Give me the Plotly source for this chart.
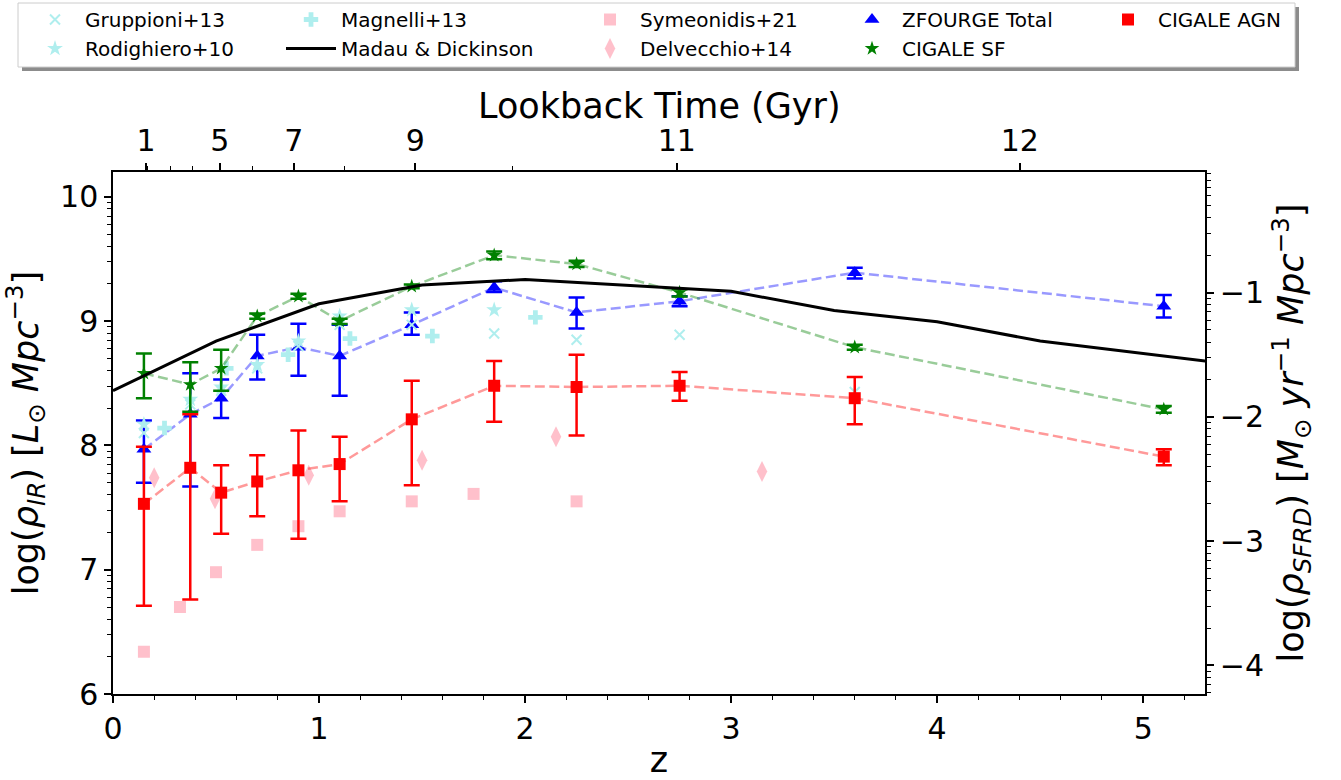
import math
import plotly.graph_objects as go

# ------------------------------------------------------------------ data
z_bins = [0.15, 0.375, 0.525, 0.7, 0.9, 1.1, 1.45, 1.85, 2.25, 2.75, 3.6, 5.1]

zf_total = [7.97, 8.25, 8.38, 8.72, 8.79, 8.72, 8.97, 9.27, 9.07, 9.16, 9.39, 9.12]
zf_total_hi = [0.23, 0.33, 0.15, 0.17, 0.19, 0.25, 0.10, 0.05, 0.12, 0.04, 0.04, 0.09]
zf_total_lo = [0.27, 0.58, 0.16, 0.19, 0.23, 0.32, 0.08, 0.035, 0.13, 0.04, 0.046, 0.09]

cigale_sf = [8.58, 8.49, 8.62, 9.04, 9.20, 9.00, 9.28, 9.53, 9.46, 9.23, 8.79, 8.29]
cigale_sf_hi = [0.16, 0.18, 0.15, 0.022, 0.02, 0.02, 0.015, 0.03, 0.025, 0.027, 0.02, 0.027]
cigale_sf_lo = [0.20, 0.22, 0.18, 0.021, 0.02, 0.022, 0.015, 0.032, 0.025, 0.032, 0.02, 0.027]

cigale_agn = [7.53, 7.82, 7.62, 7.71, 7.80, 7.85, 8.21, 8.48, 8.47, 8.48, 8.38, 7.91]
cigale_agn_hi = [0.46, 0.43, 0.22, 0.21, 0.32, 0.22, 0.31, 0.20, 0.26, 0.11, 0.17, 0.06]
cigale_agn_lo = [0.82, 1.06, 0.33, 0.28, 0.55, 0.30, 0.53, 0.29, 0.39, 0.12, 0.21, 0.07]

gruppioni_z = [0.15, 0.375, 0.525, 0.7, 0.9, 1.1, 1.45, 1.85, 2.25, 2.75, 3.6]
gruppioni_y = [8.10, 8.33, 8.44, 8.62, 8.80, 8.97, 8.97, 8.90, 8.85, 8.89, 8.43]

rodighiero_z = [0.15, 0.375, 0.525, 0.7, 0.9, 1.1, 1.45, 1.85]
rodighiero_y = [8.17, 8.37, 8.47, 8.65, 8.84, 9.04, 9.09, 9.09]

magnelli_z = [0.25, 0.55, 0.85, 1.15, 1.55, 2.05]
magnelli_y = [8.14, 8.62, 8.73, 8.86, 8.88, 9.03]

symeonidis_z = [0.15, 0.325, 0.5, 0.7, 0.9, 1.1, 1.45, 1.75, 2.25]
symeonidis_y = [6.34, 6.70, 6.98, 7.20, 7.35, 7.47, 7.55, 7.61, 7.55]

delvecchio_z = [0.2, 0.495, 0.95, 1.5, 2.15, 3.15]
delvecchio_y = [7.74, 7.57, 7.76, 7.88, 8.07, 7.79]

# Madau & Dickinson SFRD (right axis units)
md_z = [0.0, 0.5, 1.0, 1.5, 2.0, 2.5, 3.0, 3.5, 4.0, 4.5, 5.0, 5.5]
md_sfrd = [-1.79, -1.39, -1.09, -0.94, -0.895, -0.94, -0.99, -1.145, -1.235, -1.39, -1.49, -1.59]

# top axis (lookback time) tick positions in z
lookback_tick_z = [0.160, 0.518, 0.878, 1.467, 2.736, 4.401]
lookback_tick_text = ["1", "5", "7", "9", "11", "12"]
lookback_minor_z = [0.169, 0.277, 0.385, 0.679, 1.125, 1.939]

left_ticks = [6, 7, 8, 9, 10]
right_ticks = [-4, -3, -2, -1]
right_ticktext = ["\u22124", "\u22123", "\u22122", "\u22121"]
x_ticks = [0, 1, 2, 3, 4, 5]

# ------------------------------------------------------------------ style
FONT = "DejaVu Sans"
W, H = 1341, 780
ML, MR, MT, MB = 113, 136, 172, 86
PW, PH = W - ML - MR, H - MT - MB

Y_RANGE = [6.0, 10.2]
Y2_OFFSET = 10.23
Y2_RANGE = [Y_RANGE[0] - Y2_OFFSET, Y_RANGE[1] - Y2_OFFSET]


def px_x(px):
    return (px - ML) / PW


def px_y(py):
    return (H - MB - py) / PH


CYAN = "paleturquoise"
PINK = "pink"
DASH = "10px,4.5px"

fig = go.Figure()


def dashed(x, y, color):
    fig.add_trace(go.Scatter(x=x, y=y, mode="lines",
                             line=dict(color=color, width=2.5, dash=DASH),
                             showlegend=False, hoverinfo="skip"))


def errpoints(x, y, hi, lo, color, symbol, size, name, legend):
    fig.add_trace(go.Scatter(
        x=x, y=y, mode="markers", name=name, legend=legend,
        marker=dict(color=color, symbol=symbol, size=size, line=dict(width=0)),
        error_y=dict(type="data", symmetric=False, array=hi, arrayminus=lo,
                     color=color, thickness=2.5, width=8)))


# ZFOURGE total
dashed(z_bins, zf_total, "rgba(0,0,255,0.4)")
errpoints(z_bins, zf_total, zf_total_hi, zf_total_lo, "blue", "triangle-up", 13,
          "ZFOURGE Total", "legend4")

# literature
fig.add_trace(go.Scatter(x=gruppioni_z, y=gruppioni_y, mode="markers", name="Gruppioni+13",
                         legend="legend",
                         marker=dict(symbol="x-thin", size=10, color=CYAN,
                                     line=dict(color=CYAN, width=2))))
fig.add_trace(go.Scatter(x=rodighiero_z, y=rodighiero_y, mode="markers", name="Rodighiero+10",
                         legend="legend",
                         marker=dict(symbol="star", size=12, color=CYAN, line=dict(width=0))))
fig.add_trace(go.Scatter(x=magnelli_z, y=magnelli_y, mode="markers", name="Magnelli+13",
                         legend="legend2",
                         marker=dict(symbol="cross", size=12, color=CYAN, line=dict(width=0))))
fig.add_trace(go.Scatter(x=md_z, y=md_sfrd, mode="lines", name="Madau & Dickinson",
                         legend="legend2", xaxis="x2", yaxis="y2",
                         line=dict(color="black", width=3)))
fig.add_trace(go.Scatter(x=symeonidis_z, y=symeonidis_y, mode="markers", name="Symeonidis+21",
                         legend="legend3",
                         marker=dict(symbol="square", size=12, color=PINK, line=dict(width=0))))
fig.add_trace(go.Scatter(x=delvecchio_z, y=delvecchio_y, mode="markers", name="Delvecchio+14",
                         legend="legend3",
                         marker=dict(symbol="diamond-tall", size=15, color=PINK, line=dict(width=0))))

# CIGALE SF
dashed(z_bins, cigale_sf, "rgba(0,128,0,0.4)")
errpoints(z_bins, cigale_sf, cigale_sf_hi, cigale_sf_lo, "green", "star", 11,
          "CIGALE SF", "legend4")

# CIGALE AGN
dashed(z_bins, cigale_agn, "rgba(255,0,0,0.4)")
errpoints(z_bins, cigale_agn, cigale_agn_hi, cigale_agn_lo, "red", "square", 12,
          "CIGALE AGN", "legend5")

# ------------------------------------------------------------------ axes
x_minor = [round(i * 0.2, 2) for i in range(27) if i % 5 != 0]
y_minor = [n + math.log10(k) for n in range(6, 11) for k in range(2, 10)
           if n + math.log10(k) <= Y_RANGE[1]]
y2_minor = [n + math.log10(k) for n in range(-5, 0) for k in range(2, 10)
            if Y2_RANGE[0] <= n + math.log10(k) <= Y2_RANGE[1]]

tickfont = dict(family=FONT, size=30, color="black")
titlefont = dict(family=FONT, size=35, color="black")
common = dict(showline=True, linecolor="black", linewidth=1.5, showgrid=False,
              zeroline=False, ticks="outside", ticklen=7, tickwidth=1.5,
              tickcolor="black", tickfont=tickfont)


def minor(vals):
    return dict(tickmode="array", tickvals=vals, ticks="outside", ticklen=4,
                tickwidth=1.2, tickcolor="black", showgrid=False)


leg_common = dict(orientation="v", xanchor="left", yanchor="top", y=px_y(0),
                  bgcolor="rgba(0,0,0,0)", borderwidth=0, itemwidth=50,
                  font=dict(family=FONT, size=20, color="black"), tracegroupgap=0)

fig.update_layout(
    width=W, height=H,
    margin=dict(l=ML, r=MR, t=MT, b=MB, autoexpand=False),
    paper_bgcolor="white", plot_bgcolor="white",
    font=dict(family=FONT, color="black"),
    xaxis=dict(range=[0, 5.3], tickmode="array", tickvals=x_ticks,
               minor=minor(x_minor), anchor="y",
               title=dict(text="z", font=titlefont, standoff=4), **common),
    xaxis2=dict(range=[0, 5.3], overlaying="x", side="top", anchor="y2",
                tickmode="array", tickvals=lookback_tick_z, ticktext=lookback_tick_text,
                minor=minor(lookback_minor_z), **common),
    yaxis=dict(range=Y_RANGE, tickmode="array", tickvals=left_ticks,
               minor=minor(y_minor), anchor="x",
               title=dict(text="log(<i>ρ</i><sub><i>IR</i></sub>) [<i>L</i><sub>⊙</sub> <i>Mpc</i><sup>−3</sup>]",
                          font=titlefont, standoff=12), **common),
    yaxis2=dict(range=Y2_RANGE, overlaying="y", side="right", anchor="x",
                tickmode="array", tickvals=right_ticks, ticktext=right_ticktext,
                minor=minor(y2_minor),
                title=dict(text="log(<i>ρ</i><sub><i>SFRD</i></sub>) [<i>M</i><sub>⊙</sub> <i>yr</i><sup>−1</sup> <i>Mpc</i><sup>−3</sup>]",
                           font=titlefont, standoff=16), **common),
    legend=dict(x=px_x(25), **leg_common),
    legend2=dict(x=px_x(281), **leg_common),
    legend3=dict(x=px_x(580), **leg_common),
    legend4=dict(x=px_x(842), **leg_common),
    legend5=dict(x=px_x(1098), **leg_common),
    showlegend=True,
)

# top-axis title
fig.add_annotation(text="Lookback Time (Gyr)", xref="paper", yref="paper",
                   x=0.5, y=px_y(106), xanchor="center", yanchor="middle",
                   showarrow=False, font=titlefont)

# legend frame (shadow + box)
bx0, bx1, by0, by1 = 18, 1295, 3, 67
sh = 4
fig.add_shape(type="rect", xref="paper", yref="paper",
              x0=px_x(bx0 + sh), x1=px_x(bx1 + sh), y0=px_y(by1 + sh), y1=px_y(by0 + sh),
              fillcolor="#8c8c8c", line=dict(width=0), layer="above")
fig.add_shape(type="rect", xref="paper", yref="paper",
              x0=px_x(bx0), x1=px_x(bx1), y0=px_y(by1), y1=px_y(by0),
              fillcolor="white", line=dict(color="#cccccc", width=1), layer="above")

fig.write_html("out.html")
